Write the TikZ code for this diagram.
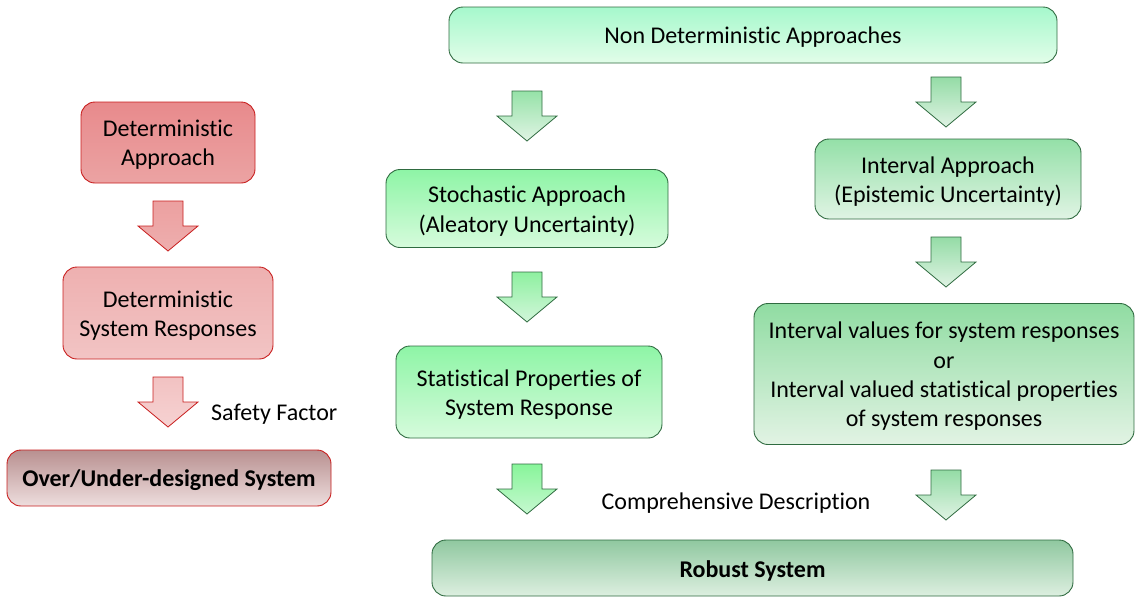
\documentclass[tikz,border=0pt]{standalone}
\usepackage{fontspec}
\setmainfont{Carlito}[Ligatures=NoCommon]
\definecolor{gborder}{HTML}{2F6B40}
\definecolor{rborder}{HTML}{C81E1E}
\definecolor{daT}{HTML}{E88A8C}\definecolor{daB}{HTML}{EBA3A3}
\definecolor{dsT}{HTML}{EEB0B0}\definecolor{dsB}{HTML}{F2C4C4}
\definecolor{ouT}{HTML}{B89090}\definecolor{ouB}{HTML}{EEDEDE}
\definecolor{ndT}{HTML}{A6F8CC}\definecolor{ndB}{HTML}{E2FDE9}
\definecolor{sgT}{HTML}{8EF5A6}\definecolor{sgB}{HTML}{D6FBDC}
\definecolor{iaT}{HTML}{94E0A8}\definecolor{iaB}{HTML}{E0F4E4}
\definecolor{ivT}{HTML}{90DCA2}\definecolor{ivB}{HTML}{E2F3E4}
\definecolor{rsT}{HTML}{90C8A0}\definecolor{rsB}{HTML}{DDEFE0}
\definecolor{ra1T}{HTML}{ECA0A0}\definecolor{ra1B}{HTML}{EEAEAE}
\definecolor{ra2T}{HTML}{F2C2C2}\definecolor{ra2B}{HTML}{F6D2D2}
\definecolor{gm1T}{HTML}{96E2A8}\definecolor{gm1B}{HTML}{E0F4E4}
\definecolor{gm2T}{HTML}{8EF0A0}\definecolor{gm2B}{HTML}{D2F6DA}
\definecolor{gm3T}{HTML}{88F59A}\definecolor{gm3B}{HTML}{C6F8D0}
\definecolor{grT}{HTML}{94DCA6}\definecolor{grB}{HTML}{E0F3E4}
\newcommand\barrow[5]{% cx, top, topcolor, bottomcolor, border
  \shade[top color=#3,bottom color=#4,draw=#5,line width=0.8pt,line join=miter]
    (#1-15,#2) -- (#1+15,#2) -- (#1+15,#2+25) -- (#1+30,#2+25) -- (#1,#2+50)
    -- (#1-30,#2+25) -- (#1-15,#2+25) -- cycle;}
\begin{document}
\begin{tikzpicture}[x=1pt,y=-1pt,
  box/.style={rectangle,rounded corners=14pt,line width=0.9pt,inner sep=0pt},
  gbox/.style={box,draw=gborder},
  rbox/.style={box,draw=rborder},
  txt/.style={label={[lbl,align=center,yshift=-2.5pt]center:{#1}}},
  btxt/.style={label={[lbl,align=center,yshift=-2.5pt,font=\fontsize{24}{29.3}\selectfont\bfseries]center:{#1}}},
  lbl/.style={font=\fontsize{24}{29.3}\selectfont,inner sep=0pt}]
\useasboundingbox (0,0) rectangle (1135,598);
% left column
\node[rbox,top color=daT,bottom color=daB,minimum width=174pt,minimum height=81pt,txt={Deterministic\\Approach}] (da) at (168,142.5) {};
\node[rbox,top color=dsT,bottom color=dsB,minimum width=210pt,minimum height=92pt,txt={Deterministic\\System Responses}] (dsr) at (168,313) {};
\node[rbox,top color=ouT,bottom color=ouB,minimum width=324pt,minimum height=56pt,btxt={Over/Under-designed System}] (ou) at (169,478) {};
\node[lbl,anchor=west] (sf) at (211,414) {Safety Factor};
% green boxes
\node[gbox,top color=ndT,bottom color=ndB,minimum width=608pt,minimum height=56pt,txt={Non Deterministic Approaches}] (nd) at (753,35) {};
\node[gbox,top color=sgT,bottom color=sgB,minimum width=282pt,minimum height=78pt,txt={Stochastic Approach\\(Aleatory Uncertainty)}] (sa) at (527,208.5) {};
\node[gbox,top color=sgT,bottom color=sgB,minimum width=266pt,minimum height=92pt,txt={Statistical Properties of\\System Response}] (sp) at (529,392) {};
\node[gbox,top color=iaT,bottom color=iaB,minimum width=266pt,minimum height=80pt,txt={Interval Approach\\(Epistemic Uncertainty)}] (ia) at (948,179) {};
\node[gbox,top color=ivT,bottom color=ivB,minimum width=380pt,minimum height=141pt,txt={Interval values for system responses\\or\\Interval valued statistical properties\\of system responses}] (iv) at (944,374) {};
\node[gbox,top color=rsT,bottom color=rsB,minimum width=641pt,minimum height=56pt,btxt={Robust System}] (rs) at (752.5,568) {};
\node[lbl] (cd) at (736,503) {Comprehensive Description};
% block arrows
\barrow{168}{201}{ra1T}{ra1B}{rborder}
\barrow{168}{377}{ra2T}{ra2B}{rborder}
\barrow{527}{91}{gm1T}{gm1B}{gborder}
\barrow{527}{272}{gm2T}{gm2B}{gborder}
\barrow{527}{464}{gm3T}{gm3B}{gborder}
\barrow{946}{77}{grT}{grB}{gborder}
\barrow{946}{237}{grT}{grB}{gborder}
\barrow{946}{470}{grT}{grB}{gborder}
\end{tikzpicture}
\end{document}
